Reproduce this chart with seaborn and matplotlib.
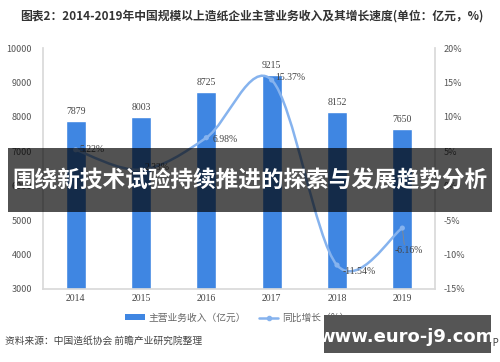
import numpy as np
import pandas as pd
import matplotlib
matplotlib.use("Agg")
import matplotlib.pyplot as plt
from matplotlib.path import Path
from matplotlib.patches import PathPatch, Patch, Rectangle
from matplotlib.lines import Line2D
import seaborn as sns

# data
years = ["2014", "2015", "2016", "2017", "2018", "2019"]
revenue = [7879, 8003, 8725, 9215, 8152, 7650]
growth = [5.22, 2.33, 6.98, 15.37, -11.54, -6.16]
growth_labels = ["5.22%", "2.33%", "6.98%", "15.37%", "-11.54%", "-6.16%"]

bar_color = "#3f86e2"
line_color = "#86b3ee"
cjk = ["Noto Sans CJK SC", "DejaVu Sans"]

sns.set_theme(style="white")
plt.rcParams["font.family"] = cjk

df = pd.DataFrame({"year": years, "revenue": revenue, "growth": growth})

fig = plt.figure(figsize=(5, 3.62), dpi=100)
ax = fig.add_axes([0.086, 0.202, 0.784, 0.665])
sns.barplot(data=df, x="year", y="revenue", color=bar_color, width=0.31,
            saturation=1, ax=ax, zorder=2)
ax.set_ylim(3000, 10000)
ax.set_yticks(range(3000, 10001, 1000))
ax.set_xlim(-0.5, 5.5)
ax.set_xlabel("")
ax.set_ylabel("")
for i, v in enumerate(revenue):
    ax.text(i, v + 150, str(v), ha="center", va="bottom", fontsize=7,
            color="#444444", family="Liberation Serif")

ax2 = ax.twinx()
ax2.set_ylim(-15, 20)
ax2.set_yticks(range(-15, 21, 5))
ax2.set_yticklabels([f"{t}%" for t in range(-15, 21, 5)])

# smooth line (Catmull-Rom style bezier through the points, like Excel)
xs = np.arange(len(growth), dtype=float)
ys = np.array(growth, dtype=float)
verts = [(xs[0], ys[0])]
codes = [Path.MOVETO]
for i in range(len(xs) - 1):
    p0 = (xs[max(i - 1, 0)], ys[max(i - 1, 0)])
    p1 = (xs[i], ys[i])
    p2 = (xs[i + 1], ys[i + 1])
    p3 = (xs[min(i + 2, len(xs) - 1)], ys[min(i + 2, len(xs) - 1)])
    c1 = (p1[0] + (p2[0] - p0[0]) / 6, p1[1] + (p2[1] - p0[1]) / 6)
    c2 = (p2[0] - (p3[0] - p1[0]) / 6, p2[1] - (p3[1] - p1[1]) / 6)
    verts += [c1, c2, p2]
    codes += [Path.CURVE4] * 3
ax2.add_patch(PathPatch(Path(verts, codes), facecolor="none",
                        edgecolor=line_color, lw=1.8, zorder=4))
sns.scatterplot(x=xs, y=ys, color=line_color, s=14, edgecolor="none",
                ax=ax2, zorder=5, legend=False)

offsets = [(0.06, 0.0), (0.06, 0.3), (0.1, -0.3), (0.06, 0.3), (0.08, -1.0), (-0.12, -3.2)]
for i, (lab, (dx, dy)) in enumerate(zip(growth_labels, offsets)):
    ax2.text(xs[i] + dx, ys[i] + dy, lab, ha="left", va="center", fontsize=7,
             color="#444444", family="Liberation Serif", zorder=6)
ax2.plot([5, 5.03], [ys[5], ys[5] - 2.4], color="#888888", lw=0.6)

for a in (ax, ax2):
    for s in a.spines.values():
        s.set_visible(False)
    a.tick_params(length=0, labelsize=6.5, colors="#555555")
ax.spines["left"].set_visible(True)
ax.spines["left"].set_color("#d9d9d9")
ax.spines["bottom"].set_visible(True)
ax.spines["bottom"].set_color("#d9d9d9")
ax2.spines["right"].set_visible(True)
ax2.spines["right"].set_color("#d9d9d9")
ax.tick_params(axis="y", pad=8)
ax2.tick_params(axis="y", pad=6)
for t in ax.get_xticklabels():
    t.set_family("Liberation Serif")
    t.set_fontsize(7)
    t.set_color("#444444")

fig.text(0.04, 0.955, "图表2：2014-2019年中国规模以上造纸企业主营业务收入及其增长速度(单位：亿元，%)",
         fontsize=8.5, fontweight="bold", color="#333333", va="center")

handles = [Patch(facecolor=bar_color, edgecolor="none"),
           Line2D([0], [0], color=line_color, lw=1.8, marker="o", markersize=3)]
fig.legend(handles, ["主营业务收入（亿元）", "同比增长（%）"], loc="center",
           bbox_to_anchor=(0.475, 0.122), ncol=2, frameon=False, fontsize=7,
           labelcolor="#666666", handlelength=2.0, handleheight=0.6,
           columnspacing=1.3, handletextpad=0.4)

fig.text(0.01, 0.058, "资料来源：中国造纸协会 前瞻产业研究院整理", fontsize=7,
         color="#444444", va="center")
fig.text(0.998, 0.052, "@前瞻经济学人APP", fontsize=7, color="#444444",
         va="center", ha="right")

# overlay banner and watermark box
fig.patches.append(Rectangle((0.016, 1 - 212 / 362), 0.968, 64 / 362,
                             transform=fig.transFigure, facecolor="black",
                             alpha=0.68, edgecolor="none", zorder=10))
fig.text(0.5, 1 - 180 / 362, "围绕新技术试验持续推进的探索与发展趋势分析",
         fontsize=16.3, fontweight="bold", color="white", ha="center",
         va="center", zorder=11)
fig.patches.append(Rectangle((324 / 500, 1 - 353 / 362), 167 / 500, 38 / 362,
                             transform=fig.transFigure, facecolor="#555555",
                             edgecolor="none", zorder=10))
fig.text(407 / 500, 1 - 337 / 362, "www.euro-j9.com", fontsize=13,
         fontweight="bold", color="white", ha="center", va="center",
         family="DejaVu Sans", zorder=11)

fig.savefig("out.png", dpi=100)
